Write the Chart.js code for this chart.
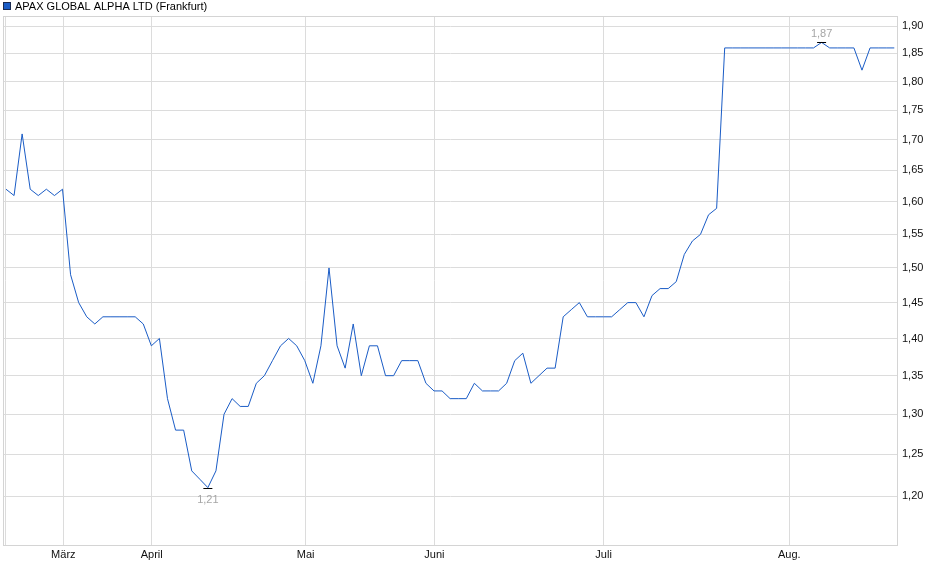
<!DOCTYPE html>
<html>
<head>
<meta charset="utf-8">
<script src="https://cdn.jsdelivr.net/npm/chart.js@4/dist/chart.umd.min.js"></script>
<style>
  body { margin: 0; background: #fff; }
  canvas { display: block; }
</style>
</head>
<body>
<canvas id="myChart" width="940" height="579"></canvas>
<script>
// closing prices, one per trading point
const prices = [
  1.62, 1.61, 1.71, 1.62, 1.61, 1.62, 1.61, 1.62, 1.49, 1.45,
  1.43, 1.42, 1.43, 1.43, 1.43, 1.43, 1.43, 1.42, 1.39, 1.40,
  1.32, 1.28, 1.28, 1.23, 1.22, 1.21, 1.23, 1.30, 1.32, 1.31,
  1.31, 1.34, 1.35, 1.37, 1.39, 1.40, 1.39, 1.37, 1.34, 1.39,
  1.50, 1.39, 1.36, 1.42, 1.35, 1.39, 1.39, 1.35, 1.35, 1.37,
  1.37, 1.37, 1.34, 1.33, 1.33, 1.32, 1.32, 1.32, 1.34, 1.33,
  1.33, 1.33, 1.34, 1.37, 1.38, 1.34, 1.35, 1.36, 1.36, 1.43,
  1.44, 1.45, 1.43, 1.43, 1.43, 1.43, 1.44, 1.45, 1.45, 1.43,
  1.46, 1.47, 1.47, 1.48, 1.52, 1.54, 1.55, 1.58, 1.59, 1.86,
  1.86, 1.86, 1.86, 1.86, 1.86, 1.86, 1.86, 1.86, 1.86, 1.86,
  1.86, 1.87, 1.86, 1.86, 1.86, 1.86, 1.82, 1.86, 1.86, 1.86,
  1.86
];

// month ticks on the x axis (position in trading points)
const monthNames = ['', 'März', 'April', 'Mai', 'Juni', 'Juli', 'Aug.'];
const monthPos = [0, 7.1, 18.05, 37.1, 53.05, 74, 97];

// y axis ticks
const yTicks = [1.20, 1.25, 1.30, 1.35, 1.40, 1.45, 1.50, 1.55, 1.60, 1.65, 1.70, 1.75, 1.80, 1.85, 1.90];

const title = 'APAX GLOBAL ALPHA LTD (Frankfurt)';
const lineColor = '#1a5cc6';
const fmt = v => v.toFixed(2).replace('.', ',');

const framePlugin = {
  id: 'frame',
  beforeDraw(chart) {
    const c = chart.ctx;
    c.save();
    c.fillStyle = '#fff';
    c.fillRect(0, 0, chart.width, chart.height);
    // legend box + title
    c.fillStyle = lineColor;
    c.fillRect(3.5, 2.5, 7, 7);
    c.strokeStyle = '#1a2a50';
    c.lineWidth = 1;
    c.strokeRect(3.5, 2.5, 7, 7);
    c.fillStyle = '#000';
    c.font = '11px "Liberation Sans", Arial, sans-serif';
    c.textBaseline = 'middle';
    c.fillText(title, 15, 6.5);
    c.restore();
  },
  afterDatasetsDraw(chart) {
    const c = chart.ctx;
    const a = chart.chartArea;
    const xs = chart.scales.x, ys = chart.scales.y;
    c.save();
    c.strokeStyle = '#d4d4d4';
    c.lineWidth = 1;
    c.strokeRect(Math.round(a.left) + 0.5, Math.round(a.top) + 0.5,
      Math.round(a.right - a.left) - 1, Math.round(a.bottom - a.top));

    // min / max markers
    let iMin = 0, iMax = 0;
    prices.forEach((v, i) => {
      if (v < prices[iMin]) iMin = i;
      if (v > prices[iMax]) iMax = i;
    });
    c.font = '11px "Liberation Sans", Arial, sans-serif';
    c.textAlign = 'center';
    c.textBaseline = 'middle';
    [[iMin, 11], [iMax, -9]].forEach(([i, dy]) => {
      const px = xs.getPixelForValue(i);
      const py = Math.round(ys.getPixelForValue(prices[i])) + 0.5;
      c.strokeStyle = '#000';
      c.beginPath();
      c.moveTo(px - 4.5, py);
      c.lineTo(px + 4.5, py);
      c.stroke();
      c.fillStyle = '#a6a6a6';
      c.fillText(fmt(prices[i]), px, py + dy);
    });
    c.restore();
  }
};

const ctx = document.getElementById('myChart').getContext('2d');
new Chart(ctx, {
  type: 'line',
  data: {
    datasets: [{
      data: prices.map((v, i) => ({ x: i, y: v })),
      borderColor: lineColor,
      borderWidth: 1,
      pointRadius: 0,
      tension: 0,
      fill: false
    }]
  },
  options: {
    responsive: false,
    animation: false,
    devicePixelRatio: 1,
    layout: { padding: { top: 16, left: 3, right: 0, bottom: 0 } },
    plugins: { legend: { display: false }, tooltip: { enabled: false } },
    scales: {
      x: {
        type: 'linear',
        min: -0.37,
        max: 110.46,
        afterBuildTicks: s => { s.ticks = monthPos.map(p => ({ value: p })); },
        afterFit: s => { s.height = 34; },
        grid: { color: '#dcdcdc', drawTicks: false },
        border: { display: false },
        ticks: {
          autoSkip: false,
          maxRotation: 0,
          padding: 3,
          color: '#111',
          font: { family: '"Liberation Sans", Arial, sans-serif', size: 11 },
          callback: (v, i) => monthNames[i]
        }
      },
      y: {
        type: 'logarithmic',
        position: 'right',
        min: 1.144,
        max: 1.919,
        afterBuildTicks: s => { s.ticks = yTicks.map(v => ({ value: v })); },
        afterFit: s => { s.width = 42; },
        grid: { color: '#dcdcdc', drawTicks: false },
        border: { display: false },
        ticks: {
          padding: 4,
          color: '#111',
          font: { family: '"Liberation Sans", Arial, sans-serif', size: 11 },
          callback: v => fmt(v)
        }
      }
    }
  },
  plugins: [framePlugin]
});
</script>
</body>
</html>
